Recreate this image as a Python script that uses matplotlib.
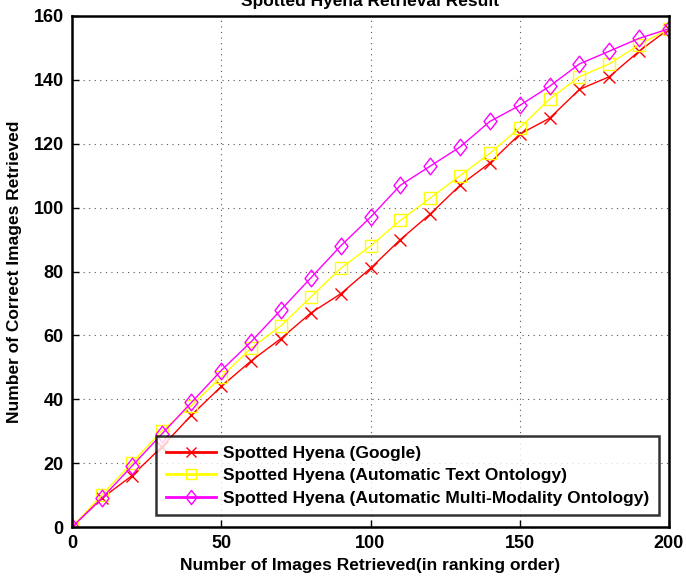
import matplotlib
matplotlib.use("Agg")
import matplotlib.pyplot as plt
from matplotlib.path import Path

x_vals = [0, 10, 20, 30, 40, 50, 60, 70, 80, 90, 100, 110, 120, 130, 140, 150, 160, 170, 180, 190, 200]
google = [0, 9, 16, 25, 35, 44, 52, 59, 67, 73, 81, 90, 98, 107, 114, 123, 128, 137, 141, 149, 156]
text_onto = [0, 10, 20, 30, 38, 47, 56, 63, 72, 81, 88, 96, 103, 110, 117, 125, 134, 141, 145, 151, 156]
multi_onto = [0, 9, 19, 29, 39, 49, 58, 68, 78, 88, 97, 107, 113, 119, 127, 132, 138, 145, 149, 153, 156]
labels = ["Spotted Hyena (Google)",
          "Spotted Hyena (Automatic Text Ontology)",
          "Spotted Hyena (Automatic Multi-Modality Ontology)"]
title = "Spotted Hyena Retrieval Result"
xlabel = "Number of Images Retrieved(in ranking order)"
ylabel = "Number of Correct Images Retrieved"
xticks = [0, 50, 100, 150, 200]
yticks = [0, 20, 40, 60, 80, 100, 120, 140, 160]

plt.rcParams['font.family'] = ['Liberation Sans', 'DejaVu Sans']
plt.rcParams['font.weight'] = 'bold'

diamond = Path([(0, 1), (0.78, 0), (0, -1), (-0.78, 0), (0, 1)],
               [Path.MOVETO, Path.LINETO, Path.LINETO, Path.LINETO, Path.CLOSEPOLY])

fig = plt.figure(figsize=(6.86, 5.86), dpi=100)
ax = fig.add_axes([72/686, 59/586, (669-72)/686, (527-16)/586])

ax.plot(x_vals, google, color='#ff0000', lw=1, marker='x', ms=8, mew=1, label=labels[0])
ax.plot(x_vals, text_onto, color='#ffff00', lw=1, marker='s', ms=9, mfc='none', mew=1, label=labels[1])
ax.plot(x_vals, multi_onto, color='#ff00ff', lw=1, marker=diamond, ms=12, mfc='none', mew=1, label=labels[2])

ax.set_xlim(0, 200)
ax.set_ylim(0, 160)
ax.set_xticks(xticks)
ax.set_yticks(yticks)
ax.tick_params(direction='in', length=5, width=1, labelsize=13, pad=6)
for lab in ax.get_xticklabels() + ax.get_yticklabels():
    lab.set_fontweight('bold')
ax.grid(True, color='#555555', linestyle=(0, (1, 4)), lw=0.8)
for s in ax.spines.values():
    s.set_linewidth(1.8)
ax.set_xlabel(xlabel, fontsize=12.5, fontweight='bold', labelpad=4)
ax.set_ylabel(ylabel, fontsize=12.5, fontweight='bold', labelpad=8)

leg = ax.legend(loc='lower right', bbox_to_anchor=(0.992, 0.013), fontsize=12.5, frameon=True,
                fancybox=False, edgecolor='black', borderpad=0.55, labelspacing=0.42,
                handlelength=2.9, handletextpad=0.4, borderaxespad=0.3, markerscale=0.85)
leg.get_frame().set_linewidth(1.8)
for line in leg.get_lines():
    line.set_linewidth(2)
for t in leg.get_texts():
    t.set_fontweight('bold')

fig.text(370.5/686, 1.0 - 6/586, title, ha='center', va='baseline', fontsize=12.5, fontweight='bold')

fig.savefig("out.png", dpi=100)
